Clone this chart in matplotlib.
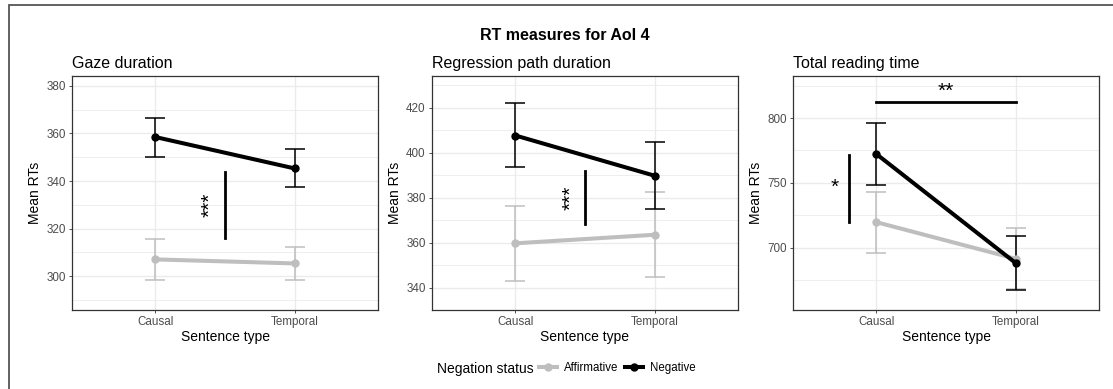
import matplotlib
matplotlib.use("Agg")
import matplotlib.pyplot as plt
from matplotlib.lines import Line2D
from matplotlib.patches import Rectangle

plt.rcParams['font.family'] = ['Liberation Sans', 'DejaVu Sans']

# data
sentence_types = ['Causal', 'Temporal']
panel_titles = ['Gaze duration', 'Regression path duration', 'Total reading time']

aff_mean = [[307.0, 305.3], [359.7, 363.5], [719.7, 691.5]]
aff_lo = [[298.5, 298.2], [343.0, 344.6], [696.0, 668.3]]
aff_hi = [[315.5, 312.4], [376.5, 382.5], [743.3, 715.0]]

neg_mean = [[358.5, 345.3], [407.7, 389.8], [772.2, 688.3]]
neg_lo = [[350.3, 337.3], [393.5, 374.8], [748.7, 667.8]]
neg_hi = [[366.7, 353.3], [422.0, 404.8], [795.9, 709.0]]

ylims = [(285.7, 384.2), (335.7, 434.2), (652.0, 832.4)]
major_ticks = [[300, 320, 340, 360, 380], [340, 360, 380, 400, 420], [700, 750, 800]]
minor_ticks = [[290, 310, 330, 350, 370], [330, 350, 370, 390, 410, 430], [675, 725, 775, 825]]

# significance annotations: (x, y0, y1, label, label_x, label_y, rotation)
vert_sig = [(1.5, 316.1, 343.9, '***', 1.39, 330.0, 90),
            (1.5, 368.2, 392.0, '***', 1.40, 380.0, 90),
            (0.80, 720.2, 771.6, '*', 0.70, 746.5, 0)]
horiz_sig = [None, None, (1.0, 2.0, 812.6, '**', 1.5, 820.5)]

GREY = '#BEBEBE'
W, H = 1113, 389
fig = plt.figure(figsize=(W / 100, H / 100), dpi=100)

# outer frame
fig.patches.append(Rectangle((9 / W, -0.05), 1.2, 1 - 5 / H + 0.05, transform=fig.transFigure,
                             fill=False, edgecolor='#555555', linewidth=1.3))

lefts = [72, 432, 793]
xs = [1, 2]
for i in range(3):
    ax = fig.add_axes([lefts[i] / W, (H - 310) / H, 306 / W, 234 / H])
    ax.set_xlim(0.4, 2.6)
    ax.set_ylim(*ylims[i])
    ax.set_yticks(major_ticks[i])
    ax.set_yticks(minor_ticks[i], minor=True)
    ax.set_xticks(xs)
    ax.set_xticklabels(sentence_types)
    ax.grid(True, which='major', color='#EBEBEB', linewidth=1.0)
    ax.grid(True, which='minor', axis='y', color='#EBEBEB', linewidth=0.6)
    ax.set_axisbelow(True)
    ax.tick_params(which='major', length=2.5, width=0.6, color='#333333',
                   labelsize=8.4, labelcolor='#4D4D4D', pad=2)
    ax.tick_params(which='minor', length=0)
    for s in ax.spines.values():
        s.set_color('#333333')
        s.set_linewidth(0.9)

    for mean, lo, hi, col in [(aff_mean[i], aff_lo[i], aff_hi[i], GREY),
                              (neg_mean[i], neg_lo[i], neg_hi[i], 'black')]:
        yerr = [[m - l for m, l in zip(mean, lo)], [h - m for m, h in zip(mean, hi)]]
        ax.errorbar(xs, mean, yerr=yerr, fmt='none', ecolor=col, elinewidth=1.1,
                    capsize=7.2, capthick=1.1, zorder=3)
        ax.plot(xs, mean, color=col, linewidth=2.9, marker='o', markersize=5, zorder=4)

    x, y0, y1, lab, lx, ly, rot = vert_sig[i]
    ax.plot([x, x], [y0, y1], color='black', linewidth=2.0, zorder=5)
    ax.text(lx, ly, lab, rotation=rot, ha='center', va='center', fontsize=15)
    if horiz_sig[i] is not None:
        x0, x1, y, lab, lx, ly = horiz_sig[i]
        ax.plot([x0, x1], [y, y], color='black', linewidth=2.0, zorder=5)
        ax.text(lx, ly, lab, ha='center', va='center', fontsize=15)

    ax.set_title(panel_titles[i], loc='left', fontsize=11.5, pad=6)
    ax.set_xlabel('Sentence type', fontsize=10, labelpad=1)
    ax.set_ylabel('Mean RTs', fontsize=10, labelpad=3)

fig.text(565 / W, 1 - 35 / H, 'RT measures for AoI 4', ha='center', va='center',
         fontsize=11.5, fontweight='bold')

# legend
fig.text(437 / W, 1 - 369 / H, 'Negation status', ha='left', va='center', fontsize=10)
handles = [Line2D([], [], color=GREY, linewidth=2.9, marker='o', markersize=5),
           Line2D([], [], color='black', linewidth=2.9, marker='o', markersize=5)]
fig.legend(handles, ['Affirmative', 'Negative'], loc='center left',
           bbox_to_anchor=(539 / W, 1 - 368 / H), ncol=2, frameon=False,
           handlelength=1.6, handletextpad=0.6, columnspacing=0.5,
           borderpad=0, borderaxespad=0, fontsize=8.3)

fig.savefig('out.png', dpi=100)
